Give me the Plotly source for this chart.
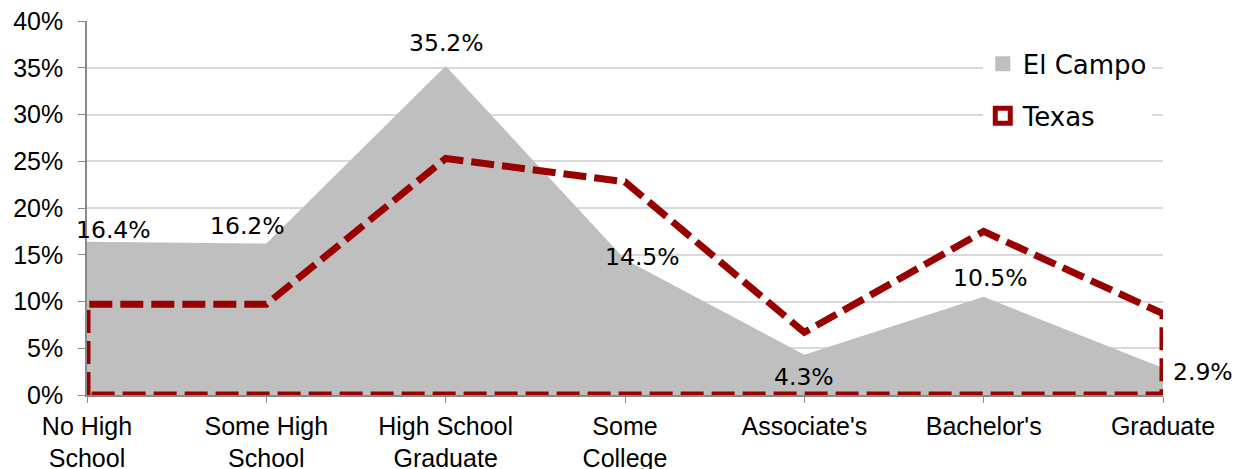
import plotly.graph_objects as go

categories = ["No High School", "Some High School", "High School Graduate",
              "Some College", "Associate's", "Bachelor's", "Graduate"]
tick_labels = ["No High<br>School", "Some High<br>School", "High School<br>Graduate",
               "Some<br>College", "Associate's", "Bachelor's", "Graduate"]
el_campo = [16.4, 16.2, 35.2, 14.5, 4.3, 10.5, 2.9]
texas = [9.7, 9.7, 25.3, 22.8, 6.7, 17.5, 8.7]
y_ticks = [0, 5, 10, 15, 20, 25, 30, 35, 40]

# label offsets (pixels) for the El Campo data labels
label_shift = [(26, 12), (-19, 18), (1, 23), (17, 2), (0, -22), (7, 19), (40, -4)]

LABEL_FONT = "DejaVu Sans, sans-serif"
AXIS_FONT = "Arial, Liberation Sans, sans-serif"
GRAY = "#BFBFBF"
RED = "#990000"

fig = go.Figure()

fig.add_trace(go.Scatter(
    x=categories, y=el_campo, name="El Campo", mode="lines",
    fill="tozeroy", fillcolor=GRAY, line=dict(width=0, color=GRAY),
    showlegend=False, hoverinfo="skip",
))

# Texas: closed outline of an unfilled area (top line, right edge, bottom, left edge)
tx_x = [categories[0]] + categories + [categories[-1]] + categories[::-1]
tx_y = [0] + texas + [0] + [0] * len(categories)
fig.add_trace(go.Scatter(
    x=tx_x, y=tx_y, name="Texas", mode="lines",
    line=dict(width=7, color=RED, dash="23px,8px"),
    showlegend=False, hoverinfo="skip",
))

# legend entries (legend-only swatches)
fig.add_trace(go.Scatter(
    x=[None], y=[None], name="El Campo", mode="markers",
    marker=dict(symbol="square", size=15, color=GRAY, line=dict(width=0)),
    legendgroup="a",
))
fig.add_trace(go.Scatter(
    x=[None], y=[None], name="Texas", mode="markers",
    marker=dict(symbol="square", size=15, color="white", line=dict(width=7, color=RED)),
    legendgroup="b",
))

for i, (c, v) in enumerate(zip(categories, el_campo)):
    dx, dy = label_shift[i]
    fig.add_annotation(x=c, y=v, text=f"{v:.1f}%", showarrow=False,
                       xshift=dx, yshift=dy,
                       font=dict(family=LABEL_FONT, size=23.5, color="#000000"))

# the page adds an 8px body margin, so the figure is 8px smaller each way
fig.update_layout(
    width=1233, height=461,
    margin=dict(l=79, r=78, t=13, b=74),
    paper_bgcolor="white", plot_bgcolor="white",
    showlegend=True,
    legend=dict(x=0.8325, y=0.948, xanchor="left", yanchor="top",
                bgcolor="white", traceorder="grouped", tracegroupgap=15,
                font=dict(family=LABEL_FONT, size=26, color="#000000"),
                itemwidth=30),
    xaxis=dict(
        type="category", categoryorder="array", categoryarray=categories,
        range=[0, len(categories) - 1], automargin=False,
        tickvals=categories, ticktext=tick_labels,
        showgrid=False, showline=True, linecolor="#898989", linewidth=1.5,
        ticks="outside", ticklen=6, tickcolor="#898989",
        tickfont=dict(family=AXIS_FONT, size=25, color="#000000"),
        ticklabelstandoff=2, ticklabeloverflow="allow",
        zeroline=False,
    ),
    yaxis=dict(
        range=[0, 40.001], tickvals=y_ticks, ticktext=[f"{t}%" for t in y_ticks],
        automargin=False,
        showgrid=True, gridcolor="#D9D9D9", gridwidth=1.5,
        showline=True, linecolor="#898989", linewidth=1.5,
        ticks="outside", ticklen=7, tickcolor="#898989",
        tickfont=dict(family=AXIS_FONT, size=25, color="#000000"),
        ticklabelstandoff=10, ticklabeloverflow="allow",
        zeroline=False,
    ),
)

fig.write_html("out.html")
